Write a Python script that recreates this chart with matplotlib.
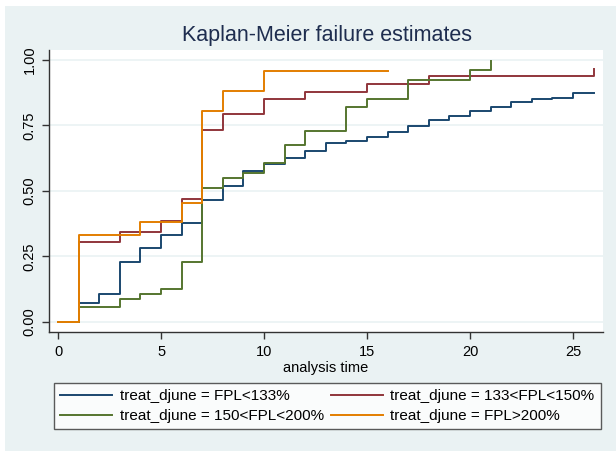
import numpy as np
import matplotlib.pyplot as plt
from matplotlib.patches import Rectangle

plt.rcParams['font.family'] = ['Liberation Sans', 'DejaVu Sans']

# failure estimates (time, cumulative failure)
t_133 = [0, 1, 2, 3, 4, 5, 6, 7, 8, 9, 10, 11, 12, 13, 14, 15, 16, 17, 18, 19, 20, 21, 22, 23, 24, 25, 26]
f_133 = [0, 0.070, 0.108, 0.229, 0.282, 0.331, 0.376, 0.465, 0.518, 0.577, 0.603, 0.627, 0.651, 0.682,
         0.692, 0.707, 0.726, 0.746, 0.772, 0.785, 0.806, 0.820, 0.838, 0.850, 0.855, 0.873, 0.873]

t_150 = [0, 1, 3, 5, 6, 7, 8, 10, 12, 15, 18, 26]
f_150 = [0, 0.306, 0.343, 0.385, 0.470, 0.732, 0.792, 0.851, 0.878, 0.908, 0.939, 0.967]

t_200 = [0, 1, 3, 4, 5, 6, 7, 8, 9, 10, 11, 12, 14, 15, 17, 20, 21]
f_200 = [0, 0.057, 0.087, 0.106, 0.124, 0.229, 0.511, 0.548, 0.569, 0.608, 0.676, 0.730, 0.820, 0.850,
         0.924, 0.962, 0.997]

t_over = [0, 1, 4, 6, 7, 8, 10, 16]
f_over = [0, 0.332, 0.381, 0.452, 0.805, 0.882, 0.959, 0.959]

labels = ['treat_djune = FPL<133%', 'treat_djune = 133<FPL<150%',
          'treat_djune = 150<FPL<200%', 'treat_djune = FPL>200%']
colors = ['#1a476f', '#90353b', '#55752f', '#e37e00']

bg = '#eaf2f3'
fig = plt.figure(figsize=(6.16, 4.51), dpi=100, facecolor='white')
fig.patches.append(Rectangle((5/616, 0), 1 - 5/616, 1 - 6/451, transform=fig.transFigure,
                             facecolor=bg, edgecolor='none', zorder=-10))

ax = fig.add_axes([49/616, 1 - 332/451, 554/616, 282/451])
ax.set_facecolor('white')

lines = []
for t, f, c in zip([t_133, t_150, t_200, t_over], [f_133, f_150, f_200, f_over], colors):
    l, = ax.step(t, f, where='post', color=c, lw=1.4)
    lines.append(l)

ax.set_xlim(-0.44, 26.46)
ax.set_ylim(-0.039, 1.038)
ax.set_xticks([0, 5, 10, 15, 20, 25])
ax.set_yticks([0, 0.25, 0.5, 0.75, 1.0])
ax.set_yticklabels(['0.00', '0.25', '0.50', '0.75', '1.00'], rotation=90, va='center')
ax.grid(axis='y', color=bg, lw=1.2)
ax.set_axisbelow(True)
for s in ['top', 'right']:
    ax.spines[s].set_visible(False)
for s in ['left', 'bottom']:
    ax.spines[s].set_color('#333333')
    ax.spines[s].set_linewidth(1)
ax.tick_params(direction='out', length=5, width=1, color='#333333', labelsize=10.5, pad=4)
ax.set_xlabel('analysis time', fontsize=10.5, labelpad=2)

fig.text(0.531, 1 - 36/451, 'Kaplan-Meier failure estimates', ha='center', va='center',
         fontsize=15.5, color='#1e2d4f')

# row-wise order like the reference: (133, 150) / (200, >200)
order = [0, 2, 1, 3]
leg = fig.legend([lines[i] for i in order], [labels[i] for i in order],
                 loc='upper left', bbox_to_anchor=(54/616, 1 - 383/451),
                 ncol=2, fontsize=11, frameon=True, fancybox=False, handlelength=3.4,
                 columnspacing=0.45, handletextpad=0.5, borderpad=0.4, borderaxespad=0,
                 labelspacing=0.4)
leg.get_frame().set_edgecolor('#333333')
leg.get_frame().set_linewidth(1)

fig.savefig('out.png', dpi=100)
